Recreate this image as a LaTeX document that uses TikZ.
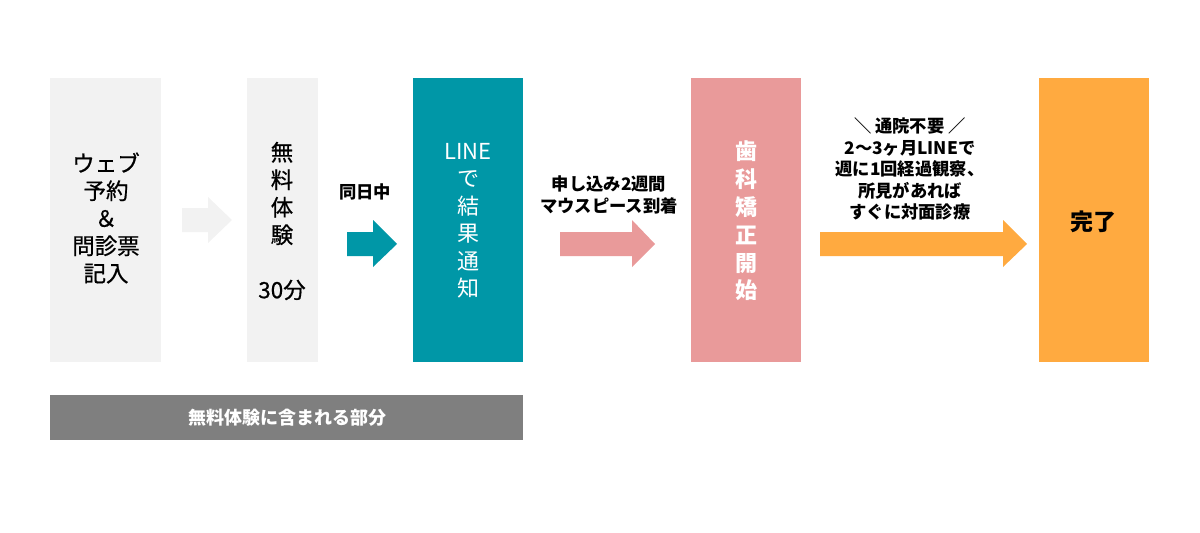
\documentclass[tikz,border=0pt]{standalone}
\usepackage{fontspec}
\setmainfont{Noto Sans CJK JP}
\newfontfamily\jpm{Noto Sans CJK JP}[FakeBold=0.6]
\definecolor{lgray}{HTML}{F2F2F2}
\definecolor{teal1}{HTML}{0097A7}
\definecolor{pink1}{HTML}{E99A9A}
\definecolor{orange1}{HTML}{FFAA40}
\definecolor{dgray}{HTML}{7F7F7F}
\begin{document}
\begin{tikzpicture}[x=1pt,y=-1pt,
  box/.style={inner sep=0pt, anchor=north west},
  boxtext/.style={align=center, font=\jpm\fontsize{22.5}{27.5}\selectfont, inner sep=0pt},
  lbl/.style={align=center, font=\fontsize{17.3}{21.5}\selectfont\bfseries, inner sep=0pt}
]
\useasboundingbox (0,0) rectangle (1200,533);
% boxes
\fill[lgray] (50,78) rectangle (161,362);
\node[box, minimum width=111pt, minimum height=284pt] (b1) at (50,78) {};
\fill[lgray] (247,78) rectangle (318,362);
\node[box, minimum width=71pt, minimum height=284pt] (b2) at (247,78) {};
\fill[teal1] (413,78) rectangle (523,362);
\node[box, minimum width=110pt, minimum height=284pt] (b3) at (413,78) {};
\fill[pink1] (691,78) rectangle (801,362);
\node[box, minimum width=110pt, minimum height=284pt] (b4) at (691,78) {};
\fill[orange1] (1039,78) rectangle (1149,362);
\node[box, minimum width=110pt, minimum height=284pt] (b5) at (1039,78) {};
\fill[dgray] (50,395) rectangle (523,440);
\node[box, minimum width=473pt, minimum height=45pt] (bar) at (50,395) {};

% box texts
\node[boxtext] (t1) at (106,218) {ウェブ\\予約\\＆\\問診票\\記入};
\node[boxtext] (t2) at (282,221) {無\\料\\体\\験\\[27.5pt]30分};
\node[boxtext, text=white, font=\fontsize{22}{27.5}\selectfont] (t3) at (468,221) {LINE\\で\\結\\果\\通\\知};
\node[boxtext, text=white, font=\fontsize{22}{27.8}\selectfont\bfseries] (t4) at (746,221) {歯\\科\\矯\\正\\開\\始};
\node[inner sep=0pt, font=\fontsize{23}{28}\selectfont\bfseries] (t5) at (1093,222) {完了};
\node[inner sep=0pt, text=white, font=\fontsize{18}{21}\selectfont\bfseries] (tb) at (287,418) {無料体験に含まれる部分};

% block arrows
\fill[lgray] (182,208) -- (208,208) -- (208,197) -- (232,220) -- (208,243) -- (208,232) -- (182,232) -- cycle;
\fill[teal1] (347,232) -- (373,232) -- (373,220) -- (397,244) -- (373,267) -- (373,256) -- (347,256) -- cycle;
\fill[pink1] (560,232) -- (632,232) -- (632,220) -- (655,244) -- (632,267) -- (632,256) -- (560,256) -- cycle;
\fill[orange1] (820,232) -- (1003,232) -- (1003,220) -- (1027,244) -- (1003,267) -- (1003,256) -- (820,256) -- cycle;

% labels
\node[lbl] (l1) at (365,192) {同日中};
\node[lbl] (l2) at (609,195) {申し込み2週間\\マウスピース到着};
\node[lbl] (l3) at (910,169) {＼ 通院不要 ／\\2〜3ヶ月LINEで\\週に1回経過観察、\\所見があれば\\すぐに対面診療};
\end{tikzpicture}
\end{document}
